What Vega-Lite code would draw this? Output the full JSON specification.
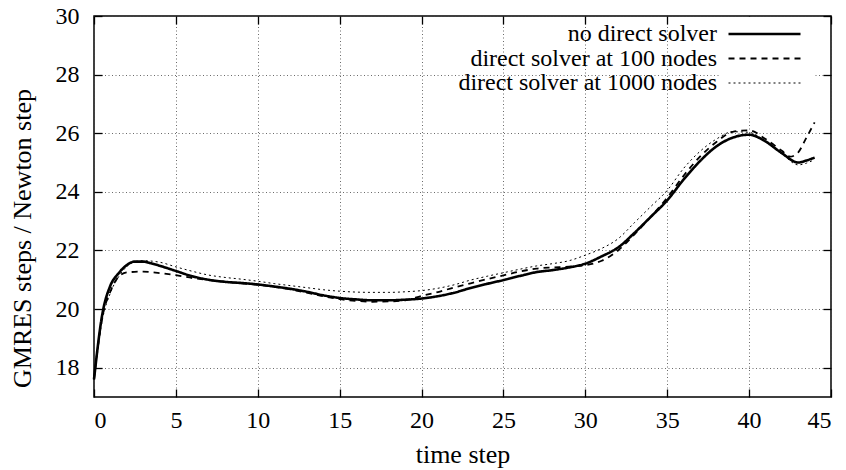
{
  "$schema": "https://vega.github.io/schema/vega-lite/v6.json",
  "width": 737,
  "height": 381,
  "autosize": {"type": "none"},
  "padding": {"left": 94, "top": 16, "right": 15, "bottom": 73},
  "background": "white",
  "config": {
    "font": "Liberation Serif",
    "view": {"stroke": "black", "strokeWidth": 1.5},
    "axis": {
      "domain": false,
      "labelFont": "Liberation Serif",
      "labelFontSize": 24,
      "labelColor": "black",
      "titleFont": "Liberation Serif",
      "titleFontSize": 26,
      "titleFontWeight": "normal",
      "titleColor": "black",
      "tickColor": "black",
      "tickSize": 8,
      "tickWidth": 1.3,
      "gridColor": "#444",
      "gridDash": [1, 2.5],
      "gridWidth": 0.8,
      "gridOpacity": 1
    },
    "legend": {
      "orient": "none",
      "legendX": 627,
      "legendY": 1,
      "title": null,
      "labelFont": "Liberation Serif",
      "labelFontSize": 24,
      "labelColor": "black",
      "labelAlign": "right",
      "labelOffset": -85,
      "labelLimit": 0,
      "symbolType": "stroke",
      "symbolSize": 5184,
      "symbolStrokeColor": "black",
      "clipHeight": 22,
      "rowPadding": 0.5,
      "padding": 6,
      "fillColor": "white"
    }
  },
  "data": {
    "values": [
      {"t": 0, "v": 17.6, "s": "no direct solver"},
      {"t": 0.5, "v": 19.8, "s": "no direct solver"},
      {"t": 1, "v": 20.8, "s": "no direct solver"},
      {"t": 1.5, "v": 21.22, "s": "no direct solver"},
      {"t": 2, "v": 21.5, "s": "no direct solver"},
      {"t": 2.5, "v": 21.62, "s": "no direct solver"},
      {"t": 3, "v": 21.62, "s": "no direct solver"},
      {"t": 3.5, "v": 21.56, "s": "no direct solver"},
      {"t": 4, "v": 21.48, "s": "no direct solver"},
      {"t": 5, "v": 21.3, "s": "no direct solver"},
      {"t": 6, "v": 21.12, "s": "no direct solver"},
      {"t": 7, "v": 21.0, "s": "no direct solver"},
      {"t": 8, "v": 20.93, "s": "no direct solver"},
      {"t": 9, "v": 20.89, "s": "no direct solver"},
      {"t": 10, "v": 20.84, "s": "no direct solver"},
      {"t": 11, "v": 20.77, "s": "no direct solver"},
      {"t": 12, "v": 20.69, "s": "no direct solver"},
      {"t": 13, "v": 20.59, "s": "no direct solver"},
      {"t": 14, "v": 20.47, "s": "no direct solver"},
      {"t": 15, "v": 20.38, "s": "no direct solver"},
      {"t": 16, "v": 20.33, "s": "no direct solver"},
      {"t": 17, "v": 20.3, "s": "no direct solver"},
      {"t": 18, "v": 20.3, "s": "no direct solver"},
      {"t": 19, "v": 20.32, "s": "no direct solver"},
      {"t": 20, "v": 20.36, "s": "no direct solver"},
      {"t": 21, "v": 20.44, "s": "no direct solver"},
      {"t": 22, "v": 20.56, "s": "no direct solver"},
      {"t": 23, "v": 20.72, "s": "no direct solver"},
      {"t": 24, "v": 20.86, "s": "no direct solver"},
      {"t": 25, "v": 20.99, "s": "no direct solver"},
      {"t": 26, "v": 21.13, "s": "no direct solver"},
      {"t": 27, "v": 21.26, "s": "no direct solver"},
      {"t": 28, "v": 21.33, "s": "no direct solver"},
      {"t": 29, "v": 21.42, "s": "no direct solver"},
      {"t": 30, "v": 21.55, "s": "no direct solver"},
      {"t": 31, "v": 21.8, "s": "no direct solver"},
      {"t": 32, "v": 22.1, "s": "no direct solver"},
      {"t": 33, "v": 22.6, "s": "no direct solver"},
      {"t": 34, "v": 23.15, "s": "no direct solver"},
      {"t": 35, "v": 23.71, "s": "no direct solver"},
      {"t": 36, "v": 24.42, "s": "no direct solver"},
      {"t": 37, "v": 25.05, "s": "no direct solver"},
      {"t": 38, "v": 25.55, "s": "no direct solver"},
      {"t": 39, "v": 25.85, "s": "no direct solver"},
      {"t": 40, "v": 25.95, "s": "no direct solver"},
      {"t": 41, "v": 25.72, "s": "no direct solver"},
      {"t": 42, "v": 25.32, "s": "no direct solver"},
      {"t": 43, "v": 25.0, "s": "no direct solver"},
      {"t": 43.5, "v": 25.07, "s": "no direct solver"},
      {"t": 44, "v": 25.17, "s": "no direct solver"},

      {"t": 0, "v": 17.6, "s": "direct solver at 100 nodes"},
      {"t": 0.5, "v": 19.7, "s": "direct solver at 100 nodes"},
      {"t": 1, "v": 20.6, "s": "direct solver at 100 nodes"},
      {"t": 1.5, "v": 21.1, "s": "direct solver at 100 nodes"},
      {"t": 2, "v": 21.25, "s": "direct solver at 100 nodes"},
      {"t": 3, "v": 21.28, "s": "direct solver at 100 nodes"},
      {"t": 4, "v": 21.23, "s": "direct solver at 100 nodes"},
      {"t": 5, "v": 21.16, "s": "direct solver at 100 nodes"},
      {"t": 6, "v": 21.06, "s": "direct solver at 100 nodes"},
      {"t": 7, "v": 20.99, "s": "direct solver at 100 nodes"},
      {"t": 8, "v": 20.93, "s": "direct solver at 100 nodes"},
      {"t": 9, "v": 20.88, "s": "direct solver at 100 nodes"},
      {"t": 10, "v": 20.83, "s": "direct solver at 100 nodes"},
      {"t": 11, "v": 20.76, "s": "direct solver at 100 nodes"},
      {"t": 12, "v": 20.67, "s": "direct solver at 100 nodes"},
      {"t": 13, "v": 20.56, "s": "direct solver at 100 nodes"},
      {"t": 14, "v": 20.44, "s": "direct solver at 100 nodes"},
      {"t": 15, "v": 20.34, "s": "direct solver at 100 nodes"},
      {"t": 16, "v": 20.28, "s": "direct solver at 100 nodes"},
      {"t": 17, "v": 20.25, "s": "direct solver at 100 nodes"},
      {"t": 18, "v": 20.26, "s": "direct solver at 100 nodes"},
      {"t": 19, "v": 20.3, "s": "direct solver at 100 nodes"},
      {"t": 20, "v": 20.45, "s": "direct solver at 100 nodes"},
      {"t": 21, "v": 20.58, "s": "direct solver at 100 nodes"},
      {"t": 22, "v": 20.74, "s": "direct solver at 100 nodes"},
      {"t": 23, "v": 20.88, "s": "direct solver at 100 nodes"},
      {"t": 24, "v": 21.02, "s": "direct solver at 100 nodes"},
      {"t": 25, "v": 21.15, "s": "direct solver at 100 nodes"},
      {"t": 26, "v": 21.28, "s": "direct solver at 100 nodes"},
      {"t": 27, "v": 21.38, "s": "direct solver at 100 nodes"},
      {"t": 28, "v": 21.42, "s": "direct solver at 100 nodes"},
      {"t": 29, "v": 21.45, "s": "direct solver at 100 nodes"},
      {"t": 30, "v": 21.5, "s": "direct solver at 100 nodes"},
      {"t": 31, "v": 21.65, "s": "direct solver at 100 nodes"},
      {"t": 32, "v": 22.0, "s": "direct solver at 100 nodes"},
      {"t": 33, "v": 22.55, "s": "direct solver at 100 nodes"},
      {"t": 34, "v": 23.15, "s": "direct solver at 100 nodes"},
      {"t": 35, "v": 23.8, "s": "direct solver at 100 nodes"},
      {"t": 36, "v": 24.55, "s": "direct solver at 100 nodes"},
      {"t": 37, "v": 25.2, "s": "direct solver at 100 nodes"},
      {"t": 38, "v": 25.7, "s": "direct solver at 100 nodes"},
      {"t": 39, "v": 26.05, "s": "direct solver at 100 nodes"},
      {"t": 40, "v": 26.1, "s": "direct solver at 100 nodes"},
      {"t": 41, "v": 25.8, "s": "direct solver at 100 nodes"},
      {"t": 42, "v": 25.4, "s": "direct solver at 100 nodes"},
      {"t": 42.5, "v": 25.2, "s": "direct solver at 100 nodes"},
      {"t": 43, "v": 25.35, "s": "direct solver at 100 nodes"},
      {"t": 43.5, "v": 25.85, "s": "direct solver at 100 nodes"},
      {"t": 44, "v": 26.37, "s": "direct solver at 100 nodes"},

      {"t": 0, "v": 17.6, "s": "direct solver at 1000 nodes"},
      {"t": 0.5, "v": 19.6, "s": "direct solver at 1000 nodes"},
      {"t": 1, "v": 20.55, "s": "direct solver at 1000 nodes"},
      {"t": 1.5, "v": 21.1, "s": "direct solver at 1000 nodes"},
      {"t": 2, "v": 21.45, "s": "direct solver at 1000 nodes"},
      {"t": 2.5, "v": 21.62, "s": "direct solver at 1000 nodes"},
      {"t": 3, "v": 21.65, "s": "direct solver at 1000 nodes"},
      {"t": 4, "v": 21.6, "s": "direct solver at 1000 nodes"},
      {"t": 5, "v": 21.44, "s": "direct solver at 1000 nodes"},
      {"t": 6, "v": 21.29, "s": "direct solver at 1000 nodes"},
      {"t": 7, "v": 21.16, "s": "direct solver at 1000 nodes"},
      {"t": 8, "v": 21.08, "s": "direct solver at 1000 nodes"},
      {"t": 9, "v": 21.02, "s": "direct solver at 1000 nodes"},
      {"t": 10, "v": 20.95, "s": "direct solver at 1000 nodes"},
      {"t": 11, "v": 20.87, "s": "direct solver at 1000 nodes"},
      {"t": 12, "v": 20.8, "s": "direct solver at 1000 nodes"},
      {"t": 13, "v": 20.73, "s": "direct solver at 1000 nodes"},
      {"t": 14, "v": 20.66, "s": "direct solver at 1000 nodes"},
      {"t": 15, "v": 20.61, "s": "direct solver at 1000 nodes"},
      {"t": 16, "v": 20.58, "s": "direct solver at 1000 nodes"},
      {"t": 17, "v": 20.57, "s": "direct solver at 1000 nodes"},
      {"t": 18, "v": 20.57, "s": "direct solver at 1000 nodes"},
      {"t": 19, "v": 20.59, "s": "direct solver at 1000 nodes"},
      {"t": 20, "v": 20.63, "s": "direct solver at 1000 nodes"},
      {"t": 21, "v": 20.71, "s": "direct solver at 1000 nodes"},
      {"t": 22, "v": 20.83, "s": "direct solver at 1000 nodes"},
      {"t": 23, "v": 20.99, "s": "direct solver at 1000 nodes"},
      {"t": 24, "v": 21.12, "s": "direct solver at 1000 nodes"},
      {"t": 25, "v": 21.24, "s": "direct solver at 1000 nodes"},
      {"t": 26, "v": 21.36, "s": "direct solver at 1000 nodes"},
      {"t": 27, "v": 21.47, "s": "direct solver at 1000 nodes"},
      {"t": 28, "v": 21.55, "s": "direct solver at 1000 nodes"},
      {"t": 29, "v": 21.65, "s": "direct solver at 1000 nodes"},
      {"t": 30, "v": 21.84, "s": "direct solver at 1000 nodes"},
      {"t": 31, "v": 22.07, "s": "direct solver at 1000 nodes"},
      {"t": 32, "v": 22.4, "s": "direct solver at 1000 nodes"},
      {"t": 33, "v": 22.95, "s": "direct solver at 1000 nodes"},
      {"t": 34, "v": 23.5, "s": "direct solver at 1000 nodes"},
      {"t": 35, "v": 24.05, "s": "direct solver at 1000 nodes"},
      {"t": 36, "v": 24.8, "s": "direct solver at 1000 nodes"},
      {"t": 37, "v": 25.38, "s": "direct solver at 1000 nodes"},
      {"t": 38, "v": 25.8, "s": "direct solver at 1000 nodes"},
      {"t": 39, "v": 26.05, "s": "direct solver at 1000 nodes"},
      {"t": 40, "v": 26.03, "s": "direct solver at 1000 nodes"},
      {"t": 41, "v": 25.72, "s": "direct solver at 1000 nodes"},
      {"t": 42, "v": 25.3, "s": "direct solver at 1000 nodes"},
      {"t": 43, "v": 24.92, "s": "direct solver at 1000 nodes"},
      {"t": 43.5, "v": 24.98, "s": "direct solver at 1000 nodes"},
      {"t": 44, "v": 25.1, "s": "direct solver at 1000 nodes"}
    ]
  },
  "layer": [
    {
      "mark": {"type": "line", "interpolate": "monotone", "color": "black"},
      "encoding": {
        "x": {
          "field": "t",
          "type": "quantitative",
          "scale": {"domain": [0, 45], "nice": false},
          "axis": {
            "orient": "bottom",
            "title": "time step",
            "values": [0, 5, 10, 15, 20, 25, 30, 35, 40, 45],
            "grid": true,
            "ticks": false,
            "labelPadding": 11,
            "titlePadding": 9
          }
        },
        "y": {
          "field": "v",
          "type": "quantitative",
          "scale": {"domain": [17, 30], "nice": false, "zero": false},
          "axis": {
            "orient": "left",
            "title": "GMRES steps / Newton step",
            "values": [18, 20, 22, 24, 26, 28, 30],
            "grid": true,
            "ticks": false,
            "labelPadding": 15,
            "titlePadding": 20,
            "titleY": 222
          }
        },
        "strokeDash": {
          "field": "s",
          "type": "nominal",
          "scale": {
            "domain": ["no direct solver", "direct solver at 100 nodes", "direct solver at 1000 nodes"],
            "range": [[1, 0], [6, 5], [2, 3]]
          },
          "legend": {
            "encode": {"entries": {"update": {"width": {"value": 80}}}}
          }
        },
        "strokeWidth": {
          "field": "s",
          "type": "nominal",
          "scale": {
            "domain": ["no direct solver", "direct solver at 100 nodes", "direct solver at 1000 nodes"],
            "range": [2.6, 1, 1]
          }
        }
      }
    },
    {
      "mark": {"type": "line", "strokeOpacity": 0},
      "encoding": {
        "x": {
          "field": "t",
          "type": "quantitative",
          "axis": {"orient": "top", "offset": -381, "title": null, "labels": false, "grid": false, "values": [0, 5, 10, 15, 20, 25, 30, 35, 40, 45]}
        },
        "y": {
          "field": "v",
          "type": "quantitative",
          "axis": {"orient": "right", "offset": -737, "title": null, "labels": false, "grid": false, "values": [18, 20, 22, 24, 26, 28, 30]}
        }
      }
    },
    {
      "mark": {"type": "line", "strokeOpacity": 0},
      "encoding": {
        "x": {
          "field": "t",
          "type": "quantitative",
          "axis": {"orient": "bottom", "offset": -381, "title": null, "labels": false, "grid": false, "values": [0, 5, 10, 15, 20, 25, 30, 35, 40, 45]}
        },
        "y": {
          "field": "v",
          "type": "quantitative",
          "axis": {"orient": "left", "offset": -737, "title": null, "labels": false, "grid": false, "values": [18, 20, 22, 24, 26, 28, 30]}
        }
      }
    }
  ],
  "resolve": {"axis": {"x": "independent", "y": "independent"}}
}
